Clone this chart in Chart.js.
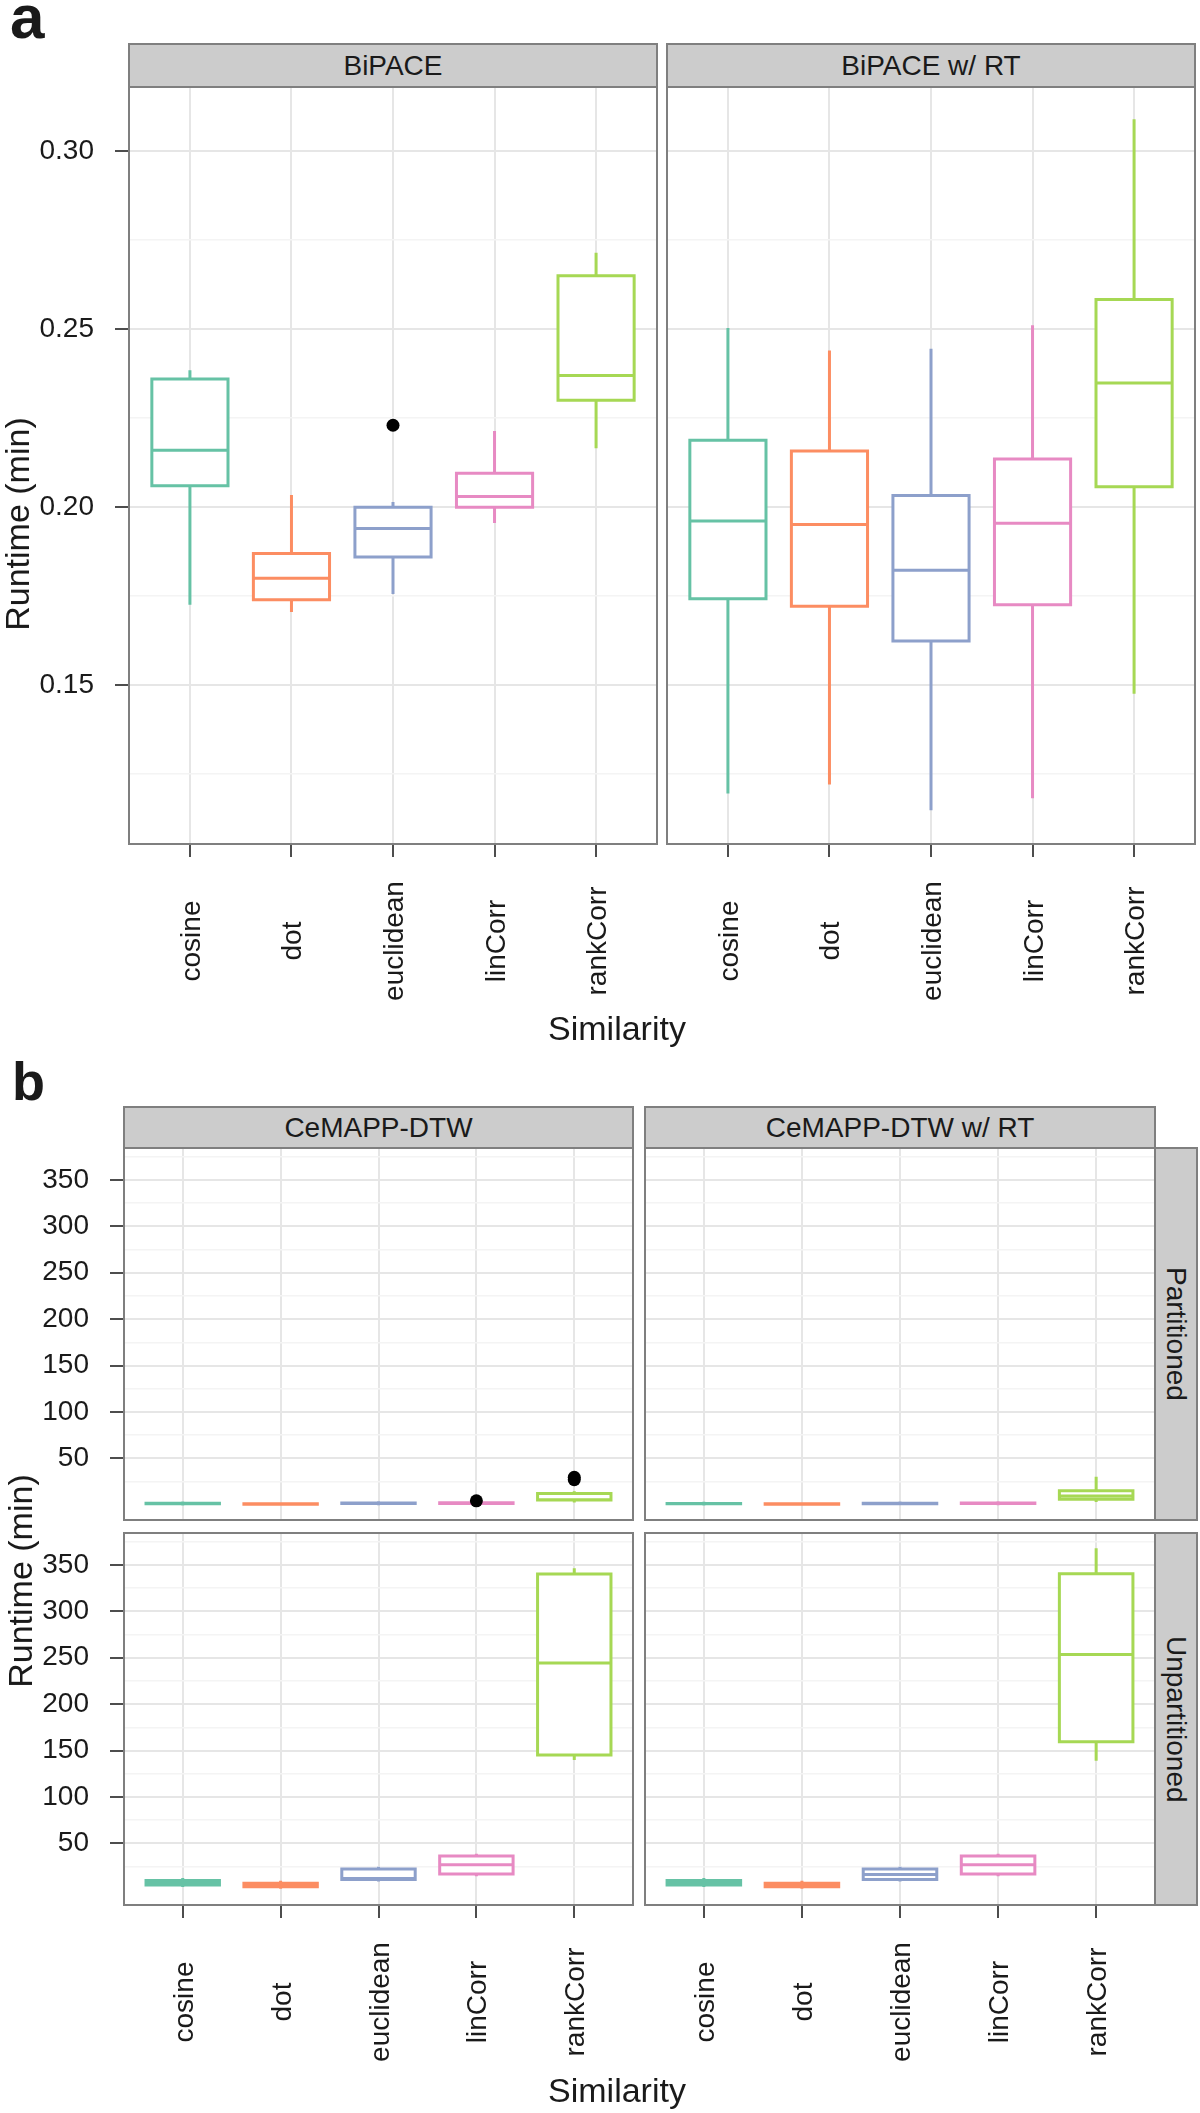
<!DOCTYPE html>
<html>
<head>
<meta charset="utf-8">
<script src="https://cdn.jsdelivr.net/npm/chart.js@4.4.1/dist/chart.umd.min.js"></script>
<style>
  html, body { margin: 0; padding: 0; background: #ffffff; }
  body { width: 1200px; height: 2113px; position: relative; overflow: hidden;
         font-family: "Liberation Sans", Arial, Helvetica, sans-serif; color: #1A1A1A; }
  canvas { position: absolute; }
  .strip { position: absolute; box-sizing: border-box; background: #CCCCCC; border: 2px solid #7F7F7F;
           display: flex; align-items: center; justify-content: center; font-size: 28px; z-index: 3; white-space: nowrap; }
  .vstrip { writing-mode: vertical-rl; }
  .lbl { position: absolute; line-height: 0; white-space: nowrap; z-index: 3; }
  .ytitle { position: absolute; width: 400px; height: 40px; display: flex; align-items: center; justify-content: center;
            font-size: 34px; transform: rotate(-90deg); white-space: nowrap; z-index: 3; }
</style>
</head>
<body>
<script>
// ---------------- data ----------------
const categories = ["cosine", "dot", "euclidean", "linCorr", "rankCorr"];
const palette    = ["#66C2A5", "#FC8D62", "#8DA0CB", "#E78AC3", "#A6D854"];

const yTicksA = [0.15, 0.20, 0.25, 0.30];
const yTicksB = [50, 100, 150, 200, 250, 300, 350];

// (a) BiPACE
const bipaceLower    = [0.173, 0.171, 0.176, 0.196, 0.217];
const bipaceQ1       = [0.206, 0.174, 0.186, 0.200, 0.230];
const bipaceMedian   = [0.216, 0.180, 0.194, 0.203, 0.237];
const bipaceQ3       = [0.236, 0.187, 0.200, 0.2095, 0.265];
const bipaceUpper    = [0.238, 0.203, 0.201, 0.221, 0.271];
const bipaceOutliers = [[], [], [0.223], [], []];

// (a) BiPACE w/ RT
const bipaceRtLower    = [0.120, 0.1225, 0.1153, 0.1187, 0.148];
const bipaceRtQ1       = [0.1743, 0.1722, 0.1624, 0.1726, 0.2057];
const bipaceRtMedian   = [0.1961, 0.1951, 0.1823, 0.1955, 0.2349];
const bipaceRtQ3       = [0.2188, 0.2158, 0.2033, 0.2135, 0.2583];
const bipaceRtUpper    = [0.2499, 0.2436, 0.2441, 0.2507, 0.3085];
const bipaceRtOutliers = [[], [], [], [], []];

// (b) CeMAPP-DTW, Partitioned
const dtwPartLower    = [0.8, 0.5, 1.0, 1.1, 4.0];
const dtwPartQ1       = [0.9, 0.6, 1.2, 1.3, 5.0];
const dtwPartMedian   = [1.1, 0.75, 1.4, 1.6, 5.4];
const dtwPartQ3       = [1.5, 0.95, 1.8, 2.0, 12.0];
const dtwPartUpper    = [1.7, 1.1, 2.2, 2.3, 13.0];
const dtwPartOutliers = [[], [], [], [4.2], [27.0, 29.5]];

// (b) CeMAPP-DTW w/ RT, Partitioned
const dtwRtPartLower    = [0.8, 0.5, 1.0, 1.1, 4.5];
const dtwRtPartQ1       = [0.9, 0.6, 1.1, 1.3, 5.8];
const dtwRtPartMedian   = [1.0, 0.7, 1.3, 1.5, 9.5];
const dtwRtPartQ3       = [1.3, 0.9, 1.6, 1.8, 15.1];
const dtwRtPartUpper    = [1.5, 1.0, 1.9, 2.1, 28.5];
const dtwRtPartOutliers = [[], [], [], [], []];

// (b) CeMAPP-DTW, Unpartitioned
const dtwUnpLower    = [4.5, 2.5, 10.5, 16.0, 141.3];
const dtwUnpQ1       = [5.1, 3.2, 11.1, 16.8, 145.3];
const dtwUnpMedian   = [7.5, 5.0, 12.0, 27.0, 244.5];
const dtwUnpQ3       = [10.0, 7.0, 22.2, 36.2, 340.2];
const dtwUnpUpper    = [11.0, 8.0, 23.0, 37.0, 345.0];
const dtwUnpOutliers = [[], [], [], [], []];

// (b) CeMAPP-DTW w/ RT, Unpartitioned
const dtwRtUnpLower    = [4.5, 2.5, 10.5, 16.0, 140.5];
const dtwRtUnpQ1       = [5.1, 3.2, 11.1, 16.8, 159.6];
const dtwRtUnpMedian   = [7.5, 5.0, 16.5, 27.0, 253.6];
const dtwRtUnpQ3       = [10.0, 7.0, 22.2, 36.2, 340.6];
const dtwRtUnpUpper    = [11.0, 8.0, 23.0, 37.0, 366.4];
const dtwRtUnpOutliers = [[], [], [], [], []];

// ---------------- styling ----------------
const FONT = '"Liberation Sans", Arial, Helvetica, sans-serif';
const TEXT = '#1A1A1A', TICK = '#4D4D4D', FRAME = '#7F7F7F';
const GRID_MAJOR = '#E6E6E6', GRID_MINOR = '#F4F4F4';
const BOX_WIDTH = 0.75;
Chart.defaults.font.family = FONT;
Chart.defaults.color = TEXT;

function withMinor(major, lo, hi) {
  const step = major[1] - major[0];
  const out = [];
  major.forEach(m => { out.push(+(m - step / 2).toFixed(6)); out.push(m); });
  out.push(+(major[major.length - 1] + step / 2).toFixed(6));
  return out.filter(v => v >= lo && v <= hi);
}

function boxDatasets(lower, q1, med, q3, upper, outliers) {
  const h = BOX_WIDTH / 2;
  const ds = [];
  ds.push({
    type: 'bar', order: 3,
    data: categories.map((c, i) => ({ x: i, y: [q1[i], q3[i]] })),
    backgroundColor: '#FFFFFF', borderWidth: 0,
    barPercentage: BOX_WIDTH, categoryPercentage: 1
  });
  categories.forEach((c, i) => {
    ds.push({
      type: 'line', order: 1,
      data: [
        { x: i - h, y: q1[i] }, { x: i + h, y: q1[i] }, { x: i + h, y: q3[i] }, { x: i - h, y: q3[i] }, { x: i - h, y: q1[i] },
        { x: i, y: null },
        { x: i - h, y: med[i] }, { x: i + h, y: med[i] },
        { x: i, y: null },
        { x: i, y: q3[i] }, { x: i, y: upper[i] },
        { x: i, y: null },
        { x: i, y: q1[i] }, { x: i, y: lower[i] }
      ],
      borderColor: palette[i], borderWidth: 3, pointRadius: 0, pointHoverRadius: 0,
      fill: false, spanGaps: false, tension: 0,
      borderCapStyle: 'square', borderJoinStyle: 'miter'
    });
  });
  const pts = [];
  outliers.forEach((arr, i) => arr.forEach(v => pts.push({ x: i, y: v })));
  ds.push({
    type: 'scatter', order: 0, data: pts,
    backgroundColor: '#000000', borderWidth: 0, pointRadius: 6.5, pointHoverRadius: 6.5, showLine: false
  });
  return ds;
}

const xLabelPlugin = {
  id: 'xlabels',
  afterDraw(chart, args, opts) {
    if (!opts || !opts.show) return;
    const ctx = chart.ctx, xs = chart.scales.x;
    ctx.save();
    ctx.font = '28px ' + FONT;
    ctx.fillStyle = TEXT;
    ctx.textAlign = 'center';
    ctx.textBaseline = 'alphabetic';
    categories.forEach((c, i) => {
      const px = xs.getPixelForValue(i);
      ctx.save();
      ctx.translate(px + 10, opts.centerY);
      ctx.rotate(-Math.PI / 2);
      ctx.fillText(c, 0, 0);
      ctx.restore();
    });
    ctx.restore();
  }
};

const framePlugin = {
  id: 'frame',
  afterDraw(chart) {
    const { left, top, right, bottom } = chart.chartArea;
    const ctx = chart.ctx;
    ctx.save();
    ctx.strokeStyle = FRAME;
    ctx.lineWidth = 2;
    ctx.strokeRect(left, top, right - left, bottom - top);
    ctx.restore();
  }
};

function makePanel(cfg) {
  const g = cfg.area;
  const padTop = 50, padRight = 10;
  const yw = cfg.yAxis ? g.L : 0;
  const padLeft = cfg.yAxis ? 0 : 10;
  const xh = cfg.xTicks ? 190 : 0;
  const padBottom = cfg.xTicks ? 0 : 50;
  const cLeft = g.L - yw - padLeft;
  const cTop = g.T - padTop;
  const cW = (g.R + padRight) - cLeft;
  const cH = padTop + (g.B - g.T) + xh + padBottom;
  const canvas = document.createElement('canvas');
  canvas.width = cW; canvas.height = cH;
  canvas.style.left = cLeft + 'px'; canvas.style.top = cTop + 'px';
  canvas.style.width = cW + 'px'; canvas.style.height = cH + 'px';
  document.body.appendChild(canvas);

  const allY = withMinor(cfg.yMajor, cfg.yMin, cfg.yMax);
  const isMajor = v => cfg.yMajor.some(m => Math.abs(m - v) < 1e-9);

  new Chart(canvas.getContext('2d'), {
    type: 'line',
    data: { datasets: boxDatasets(cfg.lower, cfg.q1, cfg.med, cfg.q3, cfg.upper, cfg.outliers) },
    plugins: [xLabelPlugin, framePlugin],
    options: {
      responsive: false, maintainAspectRatio: false, animation: false, devicePixelRatio: 1,
      events: [],
      layout: { padding: { top: padTop, right: padRight, left: padLeft, bottom: padBottom }, autoPadding: false },
      plugins: {
        legend: { display: false }, tooltip: { enabled: false },
        xlabels: { show: cfg.xTicks, centerY: cfg.labelCY - cTop }
      },
      scales: {
        x: {
          type: 'linear', min: -0.6, max: 4.6, offset: false,
          afterBuildTicks: s => { s.ticks = categories.map((c, i) => ({ value: i })); },
          afterFit: s => { s.height = xh; },
          border: { display: false },
          grid: { offset: false, color: GRID_MAJOR, lineWidth: 2, drawTicks: cfg.xTicks, tickLength: 13, tickWidth: 2, tickColor: TICK },
          ticks: { display: false, autoSkip: false }
        },
        y: {
          type: 'linear', min: cfg.yMin, max: cfg.yMax,
          afterBuildTicks: s => { s.ticks = allY.map(v => ({ value: v })); },
          afterFit: s => { s.width = yw; },
          border: { display: false },
          grid: {
            color: c => isMajor(c.tick.value) ? GRID_MAJOR : GRID_MINOR,
            lineWidth: c => isMajor(c.tick.value) ? 2 : 1.6,
            drawTicks: cfg.yAxis, tickLength: 14, tickWidth: 2,
            tickColor: c => isMajor(c.tick.value) ? TICK : 'rgba(0,0,0,0)'
          },
          ticks: {
            display: cfg.yAxis, autoSkip: false, padding: 21, color: TEXT, font: { size: 28 },
            callback: v => isMajor(v) ? cfg.fmt(v) : ''
          }
        }
      }
    }
  });
}

function addDiv(cls, text, style) {
  const d = document.createElement('div');
  d.className = cls;
  d.textContent = text;
  Object.assign(d.style, style);
  document.body.appendChild(d);
  return d;
}
function strip(text, L, T, R, B, vertical) {
  addDiv('strip' + (vertical ? ' vstrip' : ''), text,
    { left: (L - 1) + 'px', top: (T - 1) + 'px', width: (R - L + 2) + 'px', height: (B - T + 2) + 'px' });
}
function baselineText(text, left, baseline, size, weight, center) {
  const d = addDiv('lbl', text, { fontSize: size + 'px', fontWeight: weight || 'normal', top: (baseline - 0.3465 * size) + 'px' });
  if (center) { d.style.left = (left - 300) + 'px'; d.style.width = '600px'; d.style.textAlign = 'center'; }
  else d.style.left = left + 'px';
}
function yTitle(text, cx, cy) {
  addDiv('ytitle', text, { left: (cx - 200) + 'px', top: (cy - 20) + 'px' });
}

const fmtA = v => v.toFixed(2);
const fmtB = v => String(v);

// ---------------- panel a ----------------
const aY = { yMin: 0.1054, yMax: 0.318, yMajor: yTicksA, fmt: fmtA };
makePanel(Object.assign({ area: { L: 129, T: 87, R: 657, B: 844 }, yAxis: true, xTicks: true, labelCY: 941,
  lower: bipaceLower, q1: bipaceQ1, med: bipaceMedian, q3: bipaceQ3, upper: bipaceUpper, outliers: bipaceOutliers }, aY));
makePanel(Object.assign({ area: { L: 667, T: 87, R: 1195, B: 844 }, yAxis: false, xTicks: true, labelCY: 941,
  lower: bipaceRtLower, q1: bipaceRtQ1, med: bipaceRtMedian, q3: bipaceRtQ3, upper: bipaceRtUpper, outliers: bipaceRtOutliers }, aY));

// ---------------- panel b ----------------
const bY = { yMin: -16.5, yMax: 384.5, yMajor: yTicksB, fmt: fmtB };
makePanel(Object.assign({ area: { L: 124, T: 1148, R: 633, B: 1520 }, yAxis: true, xTicks: false, labelCY: 0,
  lower: dtwPartLower, q1: dtwPartQ1, med: dtwPartMedian, q3: dtwPartQ3, upper: dtwPartUpper, outliers: dtwPartOutliers }, bY));
makePanel(Object.assign({ area: { L: 645, T: 1148, R: 1155, B: 1520 }, yAxis: false, xTicks: false, labelCY: 0,
  lower: dtwRtPartLower, q1: dtwRtPartQ1, med: dtwRtPartMedian, q3: dtwRtPartQ3, upper: dtwRtPartUpper, outliers: dtwRtPartOutliers }, bY));
makePanel(Object.assign({ area: { L: 124, T: 1533, R: 633, B: 1905 }, yAxis: true, xTicks: true, labelCY: 2002,
  lower: dtwUnpLower, q1: dtwUnpQ1, med: dtwUnpMedian, q3: dtwUnpQ3, upper: dtwUnpUpper, outliers: dtwUnpOutliers }, bY));
makePanel(Object.assign({ area: { L: 645, T: 1533, R: 1155, B: 1905 }, yAxis: false, xTicks: true, labelCY: 2002,
  lower: dtwRtUnpLower, q1: dtwRtUnpQ1, med: dtwRtUnpMedian, q3: dtwRtUnpQ3, upper: dtwRtUnpUpper, outliers: dtwRtUnpOutliers }, bY));

// ---------------- text: strips, titles, figure labels ----------------
strip('BiPACE', 129, 44, 657, 87);
strip('BiPACE w/ RT', 667, 44, 1195, 87);
strip('CeMAPP-DTW', 124, 1107, 633, 1148);
strip('CeMAPP-DTW w/ RT', 645, 1107, 1155, 1148);
strip('Partitioned', 1155, 1148, 1197, 1520, true);
strip('Unpartitioned', 1155, 1533, 1197, 1905, true);

yTitle('Runtime (min)', 17, 524);
yTitle('Runtime (min)', 20, 1581);
baselineText('Similarity', 617, 1040, 34, 'normal', true);
baselineText('Similarity', 617, 2102, 34, 'normal', true);
baselineText('a', 10, 38, 62, 'bold');
baselineText('b', 12, 1100, 54, 'bold');
</script>
</body>
</html>
